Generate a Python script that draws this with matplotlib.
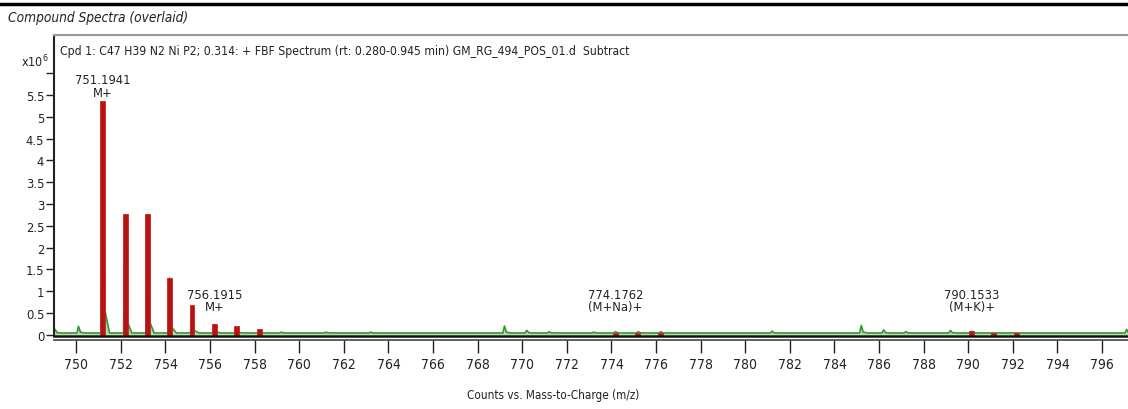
import matplotlib
matplotlib.use("Agg")
import matplotlib.pyplot as plt
import numpy as np

plt.rcParams['font.family'] = ['DejaVu Sans']
plt.rcParams['font.stretch'] = 'condensed'

# --- data (m/z, counts x10^6) ---
red_mz = [751.19, 752.19, 753.19, 754.19, 755.19, 756.19, 757.19, 758.20,
          774.18, 775.18, 776.18, 790.15, 791.15, 792.15]
red_int = [5.37, 2.78, 2.78, 1.31, 0.68, 0.25, 0.19, 0.13,
           0.04, 0.03, 0.03, 0.08, 0.05, 0.04]

green_mz = [749.05, 750.10, 751.19, 752.19, 753.19, 754.19, 755.19, 756.19, 757.19,
            758.20, 759.2, 761.2, 763.2, 769.20, 770.20, 771.2, 773.2, 774.18,
            775.2, 776.2, 781.20, 785.20, 786.20, 787.2, 789.20, 790.15, 797.1]
green_int = [0.12, 0.19, 5.30, 2.75, 2.75, 1.30, 0.66, 0.24, 0.16,
             0.10, 0.06, 0.06, 0.06, 0.20, 0.10, 0.07, 0.06, 0.07,
             0.07, 0.07, 0.08, 0.21, 0.11, 0.07, 0.10, 0.08, 0.12]
green_base = 0.04

labels = [(751.1941, "751.1941\nM+"), (756.1915, "756.1915\nM+"),
          (774.1762, "774.1762\n(M+Na)+"), (790.1533, "790.1533\n(M+K)+")]
label_peak = [5.37, 0.25, 0.04, 0.08]

xticks = list(range(750, 797, 2))
yticks = [0, 0.5, 1, 1.5, 2, 2.5, 3, 3.5, 4, 4.5, 5, 5.5, 6]
ytick_labels = ["0", "0.5", "1", "1.5", "2", "2.5", "3", "3.5", "4", "4.5", "5", "5.5", ""]

header = ("Cpd 1: C47 H39 N2 Ni P2; 0.314: + FBF Spectrum (rt: 0.280-0.945 min) "
          "GM_RG_494_POS_01.d  Subtract")

# --- figure ---
W, H = 1128, 410
fig = plt.figure(figsize=(W / 100, H / 100), dpi=100)
ax_left, ax_right, ax_top, ax_bot = 54, 1140, 36, 337
ax = fig.add_axes([ax_left / W, 1 - ax_bot / H, (ax_right - ax_left) / W, (ax_bot - ax_top) / H])

# build green profile path from peak list
gx, gy = [748.5], [green_base]
for c, h in zip(green_mz, green_int):
    gx += [c - 0.07, c, c + 0.09, c + 0.3]
    gy += [green_base, h, green_base + 0.1 * (h - green_base), green_base]
gx.append(798)
gy.append(green_base)
gx = np.array(gx); gy = np.array(gy)
order = np.argsort(gx, kind="stable")
ax.fill_between(gx[order], 0, gy[order], color="#b6dcae", lw=0, zorder=1)
ax.plot(gx[order], gy[order], color="#2f9a2f", lw=1.2, zorder=2)

ax.bar(red_mz, red_int, width=0.22, color="#b41414", edgecolor="#d42020", lw=0.6, zorder=3)

FS = 9
for (mz, txt), pk in zip(labels, label_peak):
    base = max(pk, 0.3)
    off = 1.5 if pk > 0.3 else 6
    ax.annotate(txt, xy=(mz, base), xytext=(0, off), textcoords="offset points",
                ha="center", va="bottom", fontsize=FS + 0.3, linespacing=0.95, color="#222222")

ax.set_xlim(749.0, 797.7)
ax.set_ylim(-0.03, 6.88)
ax.set_xticks(xticks)
ax.set_xticklabels([str(t) for t in xticks], fontsize=FS + 0.3, color="#222222")
ax.set_yticks(yticks)
ax.set_yticklabels(ytick_labels, fontsize=FS + 0.3, color="#222222")
ax.tick_params(axis="x", direction="out", length=9, width=1, pad=3, colors="#222222")
ax.tick_params(axis="y", direction="out", length=6, width=1, pad=1, colors="#222222")

ax.spines["right"].set_visible(False)
ax.spines["top"].set_color("#999999")
ax.spines["top"].set_linewidth(1.5)
ax.spines["left"].set_color("#222222")
ax.spines["left"].set_linewidth(1.5)
ax.spines["bottom"].set_position(("outward", 3))
ax.spines["bottom"].set_color("#444444")
ax.spines["bottom"].set_linewidth(1.2)
ax.plot([0, 1], [0, 0], transform=ax.transAxes, color="#111111", lw=1.8, clip_on=False, zorder=4)

ax.text(6 / (ax_right - ax_left), 1 - 16 / (ax_bot - ax_top), header, transform=ax.transAxes,
        fontsize=8.7, va="center", ha="left", color="#222222")

fig.text(35 / W, 1 - 62 / H, r"x10$^6$", fontsize=FS, ha="center", va="center", color="#222222")
fig.text(8 / W, 1 - 18 / H, "Compound Spectra (overlaid)", fontsize=9.8, style="italic",
         ha="left", va="center", color="#222222")
fig.text(553 / W, 1 - 396 / H, "Counts vs. Mass-to-Charge (m/z)", fontsize=8.4,
         ha="center", va="center", color="#222222")
fig.add_artist(plt.Line2D([0, 1], [1 - 5 / H, 1 - 5 / H], color="black", lw=2.5))

fig.savefig("out.png", dpi=100)
